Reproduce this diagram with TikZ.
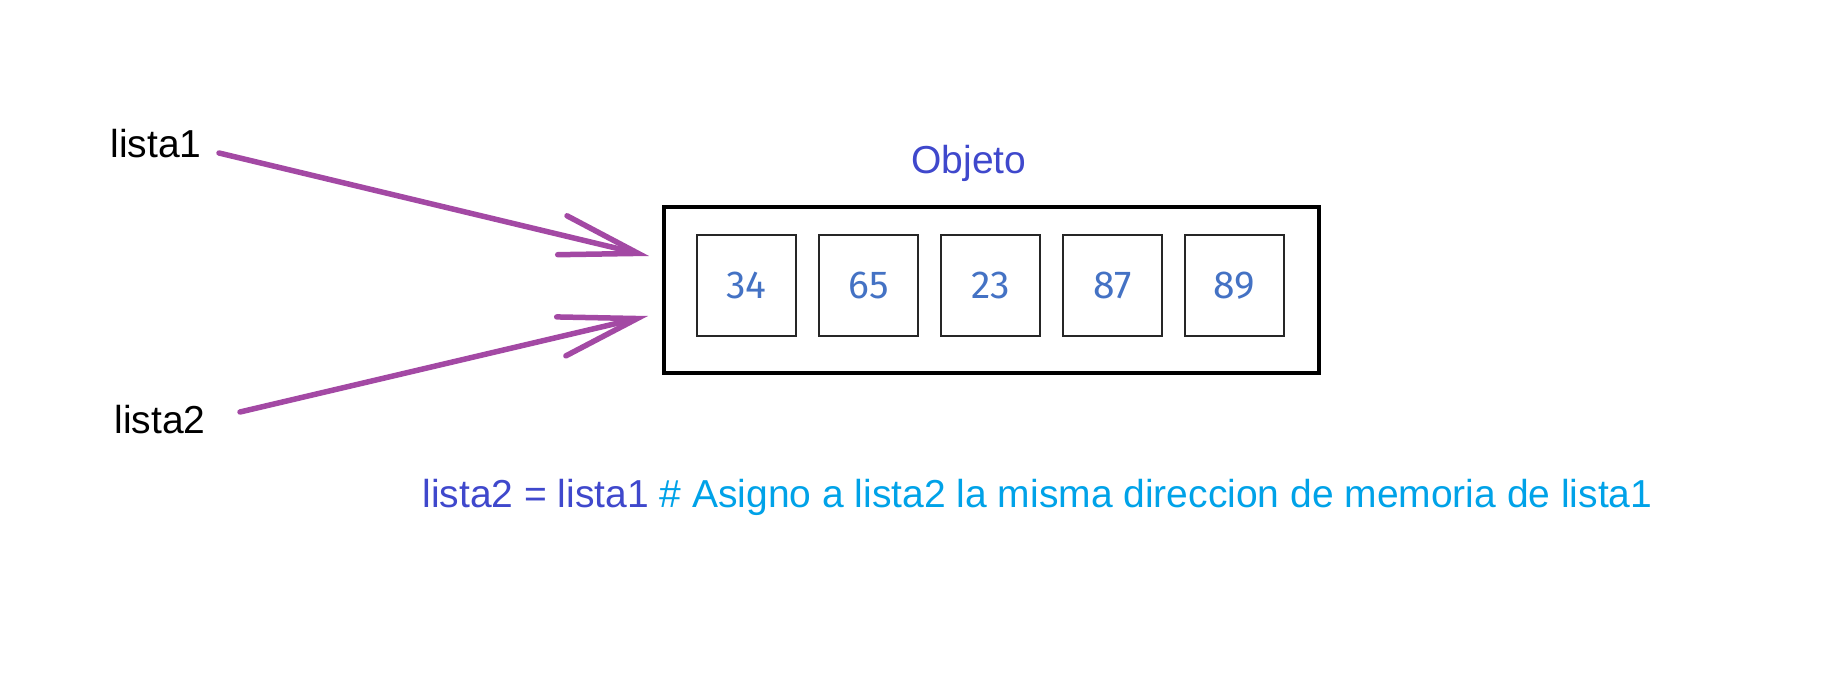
\documentclass[tikz,border=0pt]{standalone}
\usepackage{fontspec}
\setmainfont{Liberation Sans}
\newfontfamily\digitfont{Fira Sans}
\usetikzlibrary{arrows.meta, positioning}
\definecolor{refpurple}{RGB}{163, 73, 164}
\definecolor{indigo}{RGB}{63, 72, 204}
\definecolor{commentblue}{RGB}{0, 162, 232}
\definecolor{cellblue}{RGB}{68, 114, 196}

\begin{document}
\begin{tikzpicture}[
    x=0.5pt, y=-0.5pt,
    label/.style={anchor=base west, inner sep=0pt, font=\fontsize{19.5}{23}\selectfont},
    container/.style={rectangle, draw=black, line width=2pt, minimum width=327.5pt, minimum height=83pt},
    cell/.style={rectangle, draw=black!85, line width=1pt, minimum width=49.5pt, minimum height=50.5pt, text=cellblue, font=\digitfont\fontsize{19.5}{24}\selectfont},
    arrow/.style={line width=2.75pt, draw=refpurple, line cap=round, -{Straight Barb[length=39pt, width=20pt, line cap=round]}}
]
\useasboundingbox (0,0) rectangle (1822,695);

% Variable names
\node (lista1) [label] at (110,158) {lista1};
\node (lista2) [label] at (114,433) {lista2};

% Object in memory
\node (objeto_box) [container] at (991.5,290) {};
\node (objeto) [label, text=indigo] at (911,174) {Objeto};
\foreach \val [count=\i] in {34,65,23,87,89} {
    \node (cell\i) [cell] at ({746.5+122*(\i-1)},285.5) {\raisebox{-1.5pt}{\val}};
}

% References
\coordinate (lista1_out) at (219,153);
\coordinate (lista2_out) at (240,412);
\coordinate (ref1_in) at (649,256);
\coordinate (ref2_in) at (648,316);
\draw [arrow] (lista1_out) -- (ref1_in);
\draw [arrow] (lista2_out) -- (ref2_in);

% Assignment
\node (assign) [label] at (422,508) {\textcolor{indigo}{lista2 = lista1} \textcolor{commentblue}{\# Asigno a lista2 la misma direccion de memoria de lista1}};

\end{tikzpicture}
\end{document}
